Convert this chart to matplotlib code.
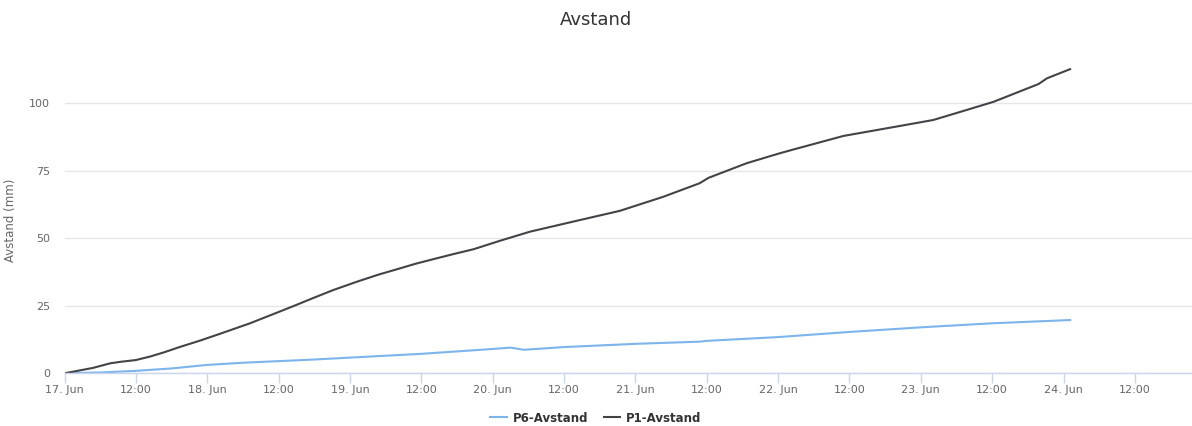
import matplotlib
matplotlib.use('Agg')
import matplotlib.pyplot as plt
import matplotlib.ticker as mticker
import pandas as pd

# start of the series
START = pd.Timestamp('2023-06-17 00:00')

# P6-Avstand: hours since start, value in mm
p6_hours = [0, 6, 12, 18, 24, 30, 36, 42, 48, 54, 60, 66, 72, 75, 77.2,
            84, 96, 106.8, 108, 120, 132, 144, 156, 169.1]
p6_values = [0, 0.3, 0.9, 1.8, 3.1, 3.9, 4.5, 5.1, 5.8, 6.5, 7.2, 8.1, 9.0, 9.5, 8.7,
             9.7, 10.9, 11.7, 12.0, 13.4, 15.3, 17.0, 18.5, 19.7]

# P1-Avstand
p1_hours = [0, 2.4, 4.8, 7.7, 9.6, 12, 14.4, 16.8, 19.2, 22.8, 26, 31.2, 35, 39, 42,
            45.2, 49.2, 52.8, 56.4, 59, 62, 65.4, 68.8, 73.2, 78.3, 86.7, 93.4, 100.7,
            106.8, 108.3, 114.7, 120.3, 122.6, 131, 140.5, 146.1, 151.7, 156.2, 163.8,
            165.2, 169.1]
p1_values = [0, 1.0, 2.0, 3.7, 4.3, 4.9, 6.2, 7.8, 9.6, 12.1, 14.5, 18.5, 21.8, 25.3, 28.0,
             30.8, 33.9, 36.5, 38.8, 40.5, 42.2, 44.1, 45.9, 49.0, 52.4, 56.7, 60.1, 65.3,
             70.3, 72.3, 77.7, 81.4, 82.8, 87.8, 91.5, 93.7, 97.4, 100.4, 107.0,
             109.1, 112.5]

y_ticks = [0, 25, 50, 75, 100]
x_tick_hours = list(range(0, 181, 12))

TEXT = '#666666'


def to_time(hours):
    return START + pd.to_timedelta(hours, unit='h')


fig = plt.figure(figsize=(11.92, 4.26), dpi=100)
ax = fig.add_axes([64.5 / 1192, 1 - 373.3 / 426, 1 - 64.5 / 1192, (373.3 - 67.8) / 426])

l6, = ax.plot(to_time(p6_hours), p6_values, color='#7cb5ec', lw=1.5, label='P6-Avstand')
l1, = ax.plot(to_time(p1_hours), p1_values, color='#434348', lw=1.5, label='P1-Avstand')

ax.set_xlim(to_time(0), to_time(189.6))
ax.set_ylim(0, 113)

# x ticks every 12 h, Highcharts style labels
tick_times = to_time(x_tick_hours)
ax.set_xticks(tick_times)
ax.set_xticklabels([f'{t.day}. {t.strftime("%b")}' if t.hour == 0 else t.strftime('%H:%M')
                    for t in tick_times])
ax.tick_params(axis='x', length=7.2, width=1, color='#ccd6eb', labelcolor=TEXT,
               labelsize=8, pad=1)

ax.set_yticks(y_ticks)
ax.yaxis.set_major_formatter(mticker.FormatStrFormatter('%d'))
ax.tick_params(axis='y', length=0, labelsize=8, labelcolor=TEXT, pad=10.4)
ax.grid(axis='y', color='#e6e6e6', lw=1)
ax.set_axisbelow(True)

for side in ['top', 'right', 'left']:
    ax.spines[side].set_visible(False)
ax.spines['bottom'].set_color('#ccd6eb')
ax.spines['bottom'].set_linewidth(1)

ax.set_ylabel('Avstand (mm)', color=TEXT, fontsize=8.5)
ax.yaxis.set_label_coords((17 - 64.5) / (1192 - 64.5), 0.5)

fig.text(0.5, 1 - 20 / 426, 'Avstand', ha='center', va='center',
         fontsize=13, color='#333333')

leg = fig.legend(handles=[l6, l1], loc='center', bbox_to_anchor=(0.5, 1 - 418 / 426),
                 ncol=2, frameon=False, handlelength=1.4, handletextpad=0.5,
                 columnspacing=1.3, prop={'weight': 'bold', 'size': 8.5})
for t in leg.get_texts():
    t.set_color('#333333')

fig.savefig('out.png', dpi=100)
